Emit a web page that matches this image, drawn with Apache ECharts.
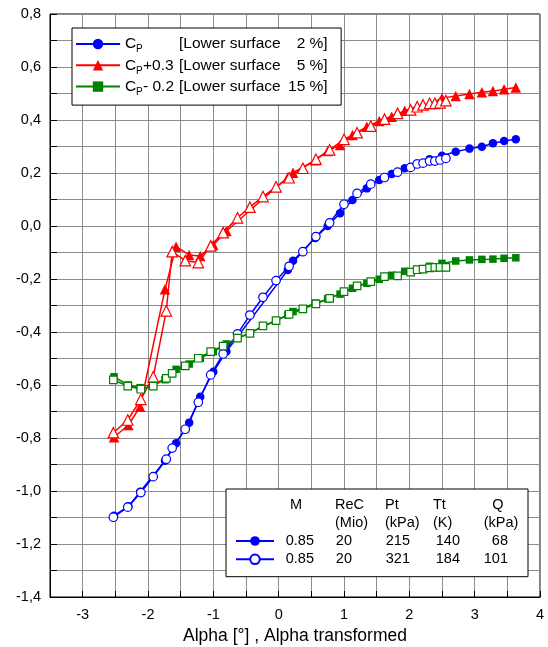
<!DOCTYPE html>
<html><head><meta charset="utf-8">
<script src="https://cdn.jsdelivr.net/npm/echarts@6/dist/echarts.min.js"></script>
<style>html,body{margin:0;padding:0;background:#fff}#c{width:548px;height:647px}</style>
</head><body><div id="c"></div>
<script>
// ---- Run 1 (filled markers): Alpha ----
const alphaFilled = [-2.52, -2.30, -2.12, -1.74, -1.57, -1.37, -1.20, -1.00, -0.80, 0.14, 0.22, 0.56, 0.75, 0.94, 1.13, 1.35, 1.54, 1.73, 1.93, 2.12, 2.31, 2.50, 2.71, 2.92, 3.11, 3.28, 3.45, 3.63];
const cp2Filled  = [-1.093, -1.058, -1.003, -0.886, -0.820, -0.742, -0.644, -0.550, -0.474, -0.166, -0.131, -0.045, 0.000, 0.048, 0.098, 0.142, 0.174, 0.196, 0.218, 0.236, 0.252, 0.265, 0.280, 0.292, 0.299, 0.312, 0.321, 0.327];
const cp5Filled  = [-0.797, -0.751, -0.682, -0.239, -0.078, -0.109, -0.113, -0.072, -0.019, 0.184, 0.201, 0.248, 0.283, 0.306, 0.343, 0.375, 0.396, 0.412, 0.435, 0.452, 0.462, 0.482, 0.491, 0.498, 0.505, 0.509, 0.516, 0.523];
const cp15Filled = [-0.569, -0.600, -0.610, -0.580, -0.541, -0.521, -0.499, -0.474, -0.445, -0.336, -0.323, -0.291, -0.275, -0.257, -0.235, -0.216, -0.201, -0.186, -0.171, -0.163, -0.152, -0.141, -0.132, -0.128, -0.126, -0.125, -0.122, -0.120];

// ---- Run 2 (open markers): Alpha transformed ----
const alphaOpen = [-2.53, -2.31, -2.11, -1.92, -1.72, -1.63, -1.43, -1.23, -1.04, -0.85, -0.63, -0.44, -0.24, -0.04, 0.16, 0.37, 0.57, 0.78, 1.00, 1.20, 1.41, 1.62, 1.82, 2.02, 2.12, 2.21, 2.31, 2.39, 2.47, 2.56];
const cp2Open  = [-1.099, -1.061, -1.006, -0.946, -0.880, -0.838, -0.767, -0.665, -0.562, -0.483, -0.407, -0.336, -0.269, -0.206, -0.152, -0.097, -0.040, 0.012, 0.082, 0.123, 0.158, 0.183, 0.203, 0.221, 0.234, 0.237, 0.245, 0.245, 0.249, 0.255];
const cp5Open  = [-0.780, -0.732, -0.654, -0.569, -0.320, -0.097, -0.131, -0.138, -0.075, -0.025, 0.031, 0.071, 0.111, 0.148, 0.182, 0.218, 0.252, 0.287, 0.327, 0.352, 0.377, 0.403, 0.425, 0.438, 0.450, 0.457, 0.463, 0.463, 0.465, 0.473];
const cp15Open = [-0.581, -0.604, -0.616, -0.604, -0.575, -0.556, -0.528, -0.499, -0.474, -0.453, -0.423, -0.405, -0.377, -0.357, -0.333, -0.313, -0.294, -0.273, -0.248, -0.226, -0.210, -0.191, -0.188, -0.174, -0.165, -0.163, -0.158, -0.156, -0.156, -0.156];

// ---- Legend texts ----
const legendMods = ['', '+0.3', '- 0.2'];
const legendPct = ['2 %', '5 %', '15 %'];
const condHeader = ['M', 'ReC', 'Pt', 'Tt', 'Q'];
const condUnits = ['', '(Mio)', '(kPa)', '(K)', '(kPa)'];
const condRow1 = ['0.85', '20', '215', '140', '68'];
const condRow2 = ['0.85', '20', '321', '184', '101'];
const xTitle = 'Alpha [°] , Alpha transformed';

const FONT = '"Liberation Sans", Arial, Helvetica, sans-serif';
const BLUE = '#0000ff', RED = '#ff0000', GREEN = '#008000';

function pairs(xs, ys) { return xs.map((x, i) => [x, ys[i]]); }

function mkSeries(name, xs, ys, color, symbol, size, open) {
  return {
    type: 'line', name: name, data: pairs(xs, ys),
    symbol: symbol, symbolSize: size, showSymbol: true, showAllSymbol: true,
    lineStyle: { color: color, width: 1.5 },
    itemStyle: open ? { color: '#ffffff', borderColor: color, borderWidth: 1.2 } : { color: color, borderWidth: 0 },
    z: open ? 4 : 3,
    emphasis: { disabled: true }, animation: false, silent: true
  };
}

const series = [
  mkSeries('Cp2', alphaFilled, cp2Filled, BLUE, 'circle', 8.5, false),
  mkSeries('Cp5', alphaFilled, cp5Filled, RED, 'triangle', 10.5, false),
  mkSeries('Cp15', alphaFilled, cp15Filled, GREEN, 'rect', 7.5, false),
  mkSeries('Cp2o', alphaOpen, cp2Open, BLUE, 'circle', 8.5, true),
  mkSeries('Cp5o', alphaOpen, cp5Open, RED, 'triangle', 10.5, true),
  mkSeries('Cp15o', alphaOpen, cp15Open, GREEN, 'rect', 7.5, true)
];

const legNames = ['Cp2', 'Cp5', 'Cp15'];
const tok = (size, extra) => Object.assign({ fontFamily: FONT, fontSize: size, color: '#000' }, extra || {});

const condCols = [
  { x: 296, align: 'center' }, { x: 335, align: 'left' }, { x: 385, align: 'left' },
  { x: 433, align: 'left' }, { x: 498, align: 'center' }
];
const unitCols = [
  { x: 296, align: 'center' }, { x: 335, align: 'left' }, { x: 385, align: 'left' },
  { x: 433, align: 'left' }, { x: 501, align: 'center' }
];
const graphicEls = [];
condHeader.forEach((t, i) => graphicEls.push({ type: 'text', x: condCols[i].x, y: 505, z: 100,
  style: { text: t, fill: '#000', font: '14.5px ' + FONT, align: condCols[i].align, verticalAlign: 'middle' } }));
condUnits.forEach((t, i) => { if (t) graphicEls.push({ type: 'text', x: unitCols[i].x, y: 523, z: 100,
  style: { text: t, fill: '#000', font: '14.5px ' + FONT, align: unitCols[i].align, verticalAlign: 'middle' } }); });

const option = {
  backgroundColor: '#fff',
  animation: false,
  grid: { left: 50, top: 14, width: 490, height: 583, show: true, borderColor: '#000', borderWidth: 1, outerBoundsMode: 'none' },
  xAxis: {
    type: 'value', min: -3.5, max: 4, interval: 0.5,
    axisLine: { show: true, onZero: false, lineStyle: { color: '#000', width: 1 } },
    axisTick: { show: true, inside: true, length: 6, lineStyle: { color: '#000' } },
    axisLabel: { showMinLabel: true, showMaxLabel: true, margin: 10, color: '#000', fontFamily: FONT, fontSize: 14.5,
      formatter: v => (Math.abs(v - Math.round(v)) < 1e-6 ? String(Math.round(v)) : '') },
    splitLine: { show: true, lineStyle: { color: '#8c8c8c', width: 1 } },
    name: xTitle, nameLocation: 'middle', nameGap: 26,
    nameTextStyle: { color: '#000', fontFamily: FONT, fontSize: 17.5 }
  },
  yAxis: {
    type: 'value', min: -1.4, max: 0.8, interval: 0.1,
    axisLine: { show: true, onZero: false, lineStyle: { color: '#000', width: 1 } },
    axisTick: { show: true, inside: true, length: 7, lineStyle: { color: '#000' } },
    axisLabel: { showMinLabel: true, showMaxLabel: true, margin: 9, color: '#000', fontFamily: FONT, fontSize: 14.5,
      formatter: v => { const k = Math.round(v * 10); return (k % 2 === 0) ? (k / 10).toFixed(1).replace('.', ',') : ''; } },
    splitLine: { show: true, lineStyle: { color: '#8c8c8c', width: 1 } }
  },
  legend: [
    {
      id: 'main', orient: 'vertical', left: 72, top: 28, padding: [5.5, 13.5, 8, 3],
      itemWidth: 44, itemHeight: 13, itemGap: 0.3,
      backgroundColor: '#fff', borderColor: '#000', borderWidth: 1, selectedMode: false, z: 20,
      data: legNames,
      formatter: name => {
        const i = legNames.indexOf(name);
        return '{c|C}{s|P}{m|' + (legendMods[i] || ' ') + '}{d|[Lower surface}{n|' + legendPct[i] + ']}';
      },
      textStyle: {
        fontFamily: FONT, fontSize: 15.5, color: '#000', lineHeight: 21,
        rich: {
          c: tok(15.5, { width: 11, lineHeight: 21 }),
          s: tok(10, { width: 7, lineHeight: 5, verticalAlign: 'bottom' }),
          m: tok(15.5, { width: 36, lineHeight: 21 }),
          d: tok(15.5, { lineHeight: 21 }),
          n: tok(15.5, { width: 47, align: 'right', lineHeight: 21 })
        }
      }
    },
    {
      id: 'cond', orient: 'vertical', left: 226, top: 489, padding: [43, 20, 8.4, 9],
      itemWidth: 38, itemHeight: 12, itemGap: 0.3,
      backgroundColor: '#fff', borderColor: '#000', borderWidth: 1, selectedMode: false, z: 20,
      data: ['Cp2', 'Cp2o'],
      formatter: name => {
        const r = name === 'Cp2' ? condRow1 : condRow2;
        return '{a|' + r[0] + '}{b|' + r[1] + '}{c|' + r[2] + '}{d|' + r[3] + '}{e|' + r[4] + '}';
      },
      textStyle: {
        fontFamily: FONT, fontSize: 14.5, color: '#000', lineHeight: 18,
        rich: {
          a: tok(14.5, { width: 35, align: 'right', lineHeight: 18 }),
          b: tok(14.5, { width: 38, align: 'right', lineHeight: 18 }),
          c: tok(14.5, { width: 58, align: 'right', lineHeight: 18 }),
          d: tok(14.5, { width: 50, align: 'right', lineHeight: 18 }),
          e: tok(14.5, { width: 48, align: 'right', lineHeight: 18 })
        }
      }
    }
  ],
  graphic: { elements: graphicEls },
  series: series
};

const chart = echarts.init(document.getElementById('c'), null, { renderer: 'canvas' });
chart.setOption(option);
</script>
</body></html>
